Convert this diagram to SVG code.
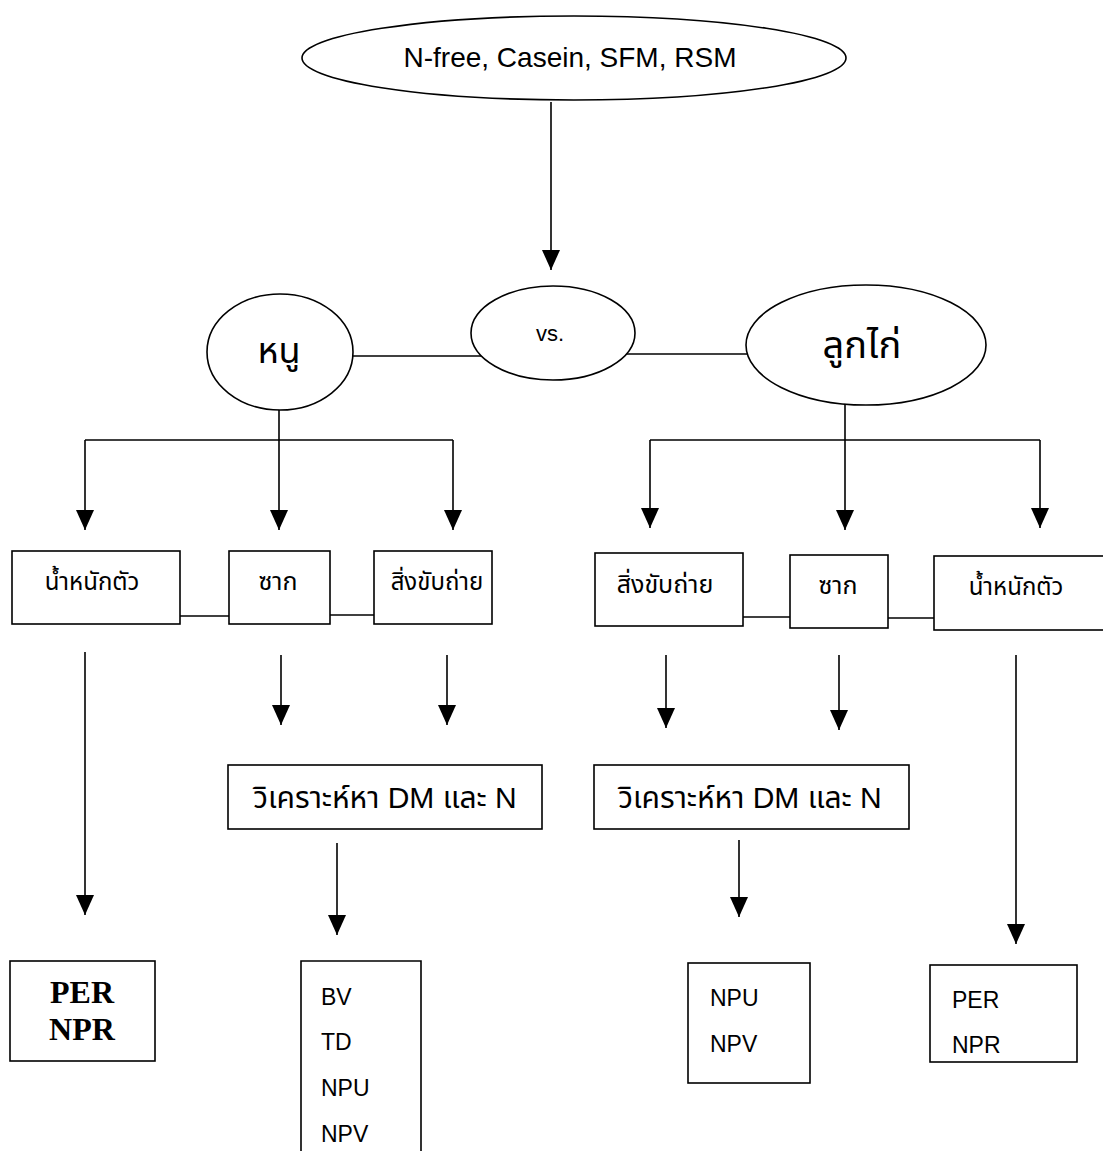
<svg xmlns="http://www.w3.org/2000/svg" width="1103" height="1151" viewBox="0 0 1103 1151">
<defs>
<marker id="ah" markerWidth="20" markerHeight="18" refX="20" refY="9" orient="auto" markerUnits="userSpaceOnUse" viewBox="0 0 20 18">
<path d="M0,0 L20,9 L0,18 Z" fill="#000"/>
</marker>
</defs>
<style>
.s{fill:#fff;stroke:#000;stroke-width:1.6}
.l{fill:none;stroke:#000;stroke-width:1.6}
.a{fill:none;stroke:#000;stroke-width:1.6}
.t{font-family:"Liberation Sans",Arial,"Noto Sans Thai","Noto Sans",sans-serif;fill:#000}
.b{font-family:"Liberation Serif","Times New Roman",serif;font-weight:bold;font-size:32px;fill:#000}
</style>
<rect width="1103" height="1151" fill="#fff"/>
<g id="connectors">
<path class="a" d="M551,102 V270" marker-end="url(#ah)"/>
<path class="l" d="M353,356 H494"/>
<path class="l" d="M600,354 H748"/>
<path class="a" d="M279,400 V530" marker-end="url(#ah)"/>
<path class="l" d="M85,440 H453"/>
<path class="a" d="M85,440 V530" marker-end="url(#ah)"/>
<path class="a" d="M453,440 V530" marker-end="url(#ah)"/>
<path class="a" d="M845,403 V530" marker-end="url(#ah)"/>
<path class="l" d="M650,440 H1040"/>
<path class="a" d="M650,440 V528" marker-end="url(#ah)"/>
<path class="a" d="M1040,440 V528" marker-end="url(#ah)"/>
<path class="l" d="M180,616 H229"/>
<path class="l" d="M330,615 H374"/>
<path class="l" d="M743,617 H790"/>
<path class="l" d="M888,618 H934"/>
<path class="a" d="M85,652 V915" marker-end="url(#ah)"/>
<path class="a" d="M281,655 V725" marker-end="url(#ah)"/>
<path class="a" d="M447,655 V725" marker-end="url(#ah)"/>
<path class="a" d="M666,655 V728" marker-end="url(#ah)"/>
<path class="a" d="M839,655 V730" marker-end="url(#ah)"/>
<path class="a" d="M1016,655 V944" marker-end="url(#ah)"/>
<path class="a" d="M337,843 V935" marker-end="url(#ah)"/>
<path class="a" d="M739,840 V917" marker-end="url(#ah)"/>
</g>
<g id="n-feed">
<ellipse class="s" cx="574" cy="58" rx="272" ry="42"/>
<text class="t" x="570" y="67" font-size="28" text-anchor="middle">N-free, Casein, SFM, RSM</text>
</g>
<g id="n-rat">
<ellipse class="s" cx="280" cy="352" rx="73" ry="58"/>
<text class="t" x="279" y="363" font-size="36" text-anchor="middle">หนู</text>
</g>
<g id="n-vs">
<ellipse class="s" cx="553" cy="333" rx="82" ry="47"/>
<text class="t" x="550" y="341" font-size="22" text-anchor="middle">vs.</text>
</g>
<g id="n-chick">
<ellipse class="s" cx="866" cy="345" rx="120" ry="60"/>
<text class="t" x="862" y="358" font-size="38" text-anchor="middle">ลูกไก่</text>
</g>
<g id="n-rat-weight">
<rect class="s" x="12" y="551" width="168" height="73"/>
<text class="t" x="92" y="590" font-size="24" text-anchor="middle">น้ำหนักตัว</text>
</g>
<g id="n-rat-carcass">
<rect class="s" x="229" y="551" width="101" height="73"/>
<text class="t" x="278" y="590" font-size="25" text-anchor="middle">ซาก</text>
</g>
<g id="n-rat-excreta">
<rect class="s" x="374" y="551" width="118" height="73"/>
<text class="t" x="437" y="590" font-size="24" text-anchor="middle">สิ่งขับถ่าย</text>
</g>
<g id="n-chick-excreta">
<rect class="s" x="595" y="553" width="148" height="73"/>
<text class="t" x="665" y="593" font-size="25" text-anchor="middle">สิ่งขับถ่าย</text>
</g>
<g id="n-chick-carcass">
<rect class="s" x="790" y="555" width="98" height="73"/>
<text class="t" x="838" y="594" font-size="25" text-anchor="middle">ซาก</text>
</g>
<g id="n-chick-weight">
<rect class="s" x="934" y="556" width="170" height="74"/>
<text class="t" x="1016" y="595" font-size="24" text-anchor="middle">น้ำหนักตัว</text>
</g>
<g id="n-rat-analysis">
<rect class="s" x="228" y="765" width="314" height="64"/>
<text class="t" x="385" y="808" font-size="30" text-anchor="middle">วิเคราะห์หา DM และ N</text>
</g>
<g id="n-chick-analysis">
<rect class="s" x="594" y="765" width="315" height="64"/>
<text class="t" x="750" y="808" font-size="30" text-anchor="middle">วิเคราะห์หา DM และ N</text>
</g>
<g id="n-rat-per">
<rect class="s" x="10" y="961" width="145" height="100"/>
<text class="b" x="82" y="1003" text-anchor="middle">PER</text>
<text class="b" x="82" y="1040" text-anchor="middle">NPR</text>
</g>
<g id="n-rat-bv">
<path class="s" d="M301,1155 V961 H421 V1155"/>
<text class="t" x="321" y="1005" font-size="23">BV</text>
<text class="t" x="321" y="1050" font-size="23">TD</text>
<text class="t" x="321" y="1096" font-size="23">NPU</text>
<text class="t" x="321" y="1142" font-size="23">NPV</text>
</g>
<g id="n-chick-npu">
<rect class="s" x="688" y="963" width="122" height="120"/>
<text class="t" x="710" y="1006" font-size="23">NPU</text>
<text class="t" x="710" y="1052" font-size="23">NPV</text>
</g>
<g id="n-chick-per">
<rect class="s" x="930" y="965" width="147" height="97"/>
<text class="t" x="952" y="1008" font-size="23">PER</text>
<text class="t" x="952" y="1053" font-size="23">NPR</text>
</g>
</svg>
